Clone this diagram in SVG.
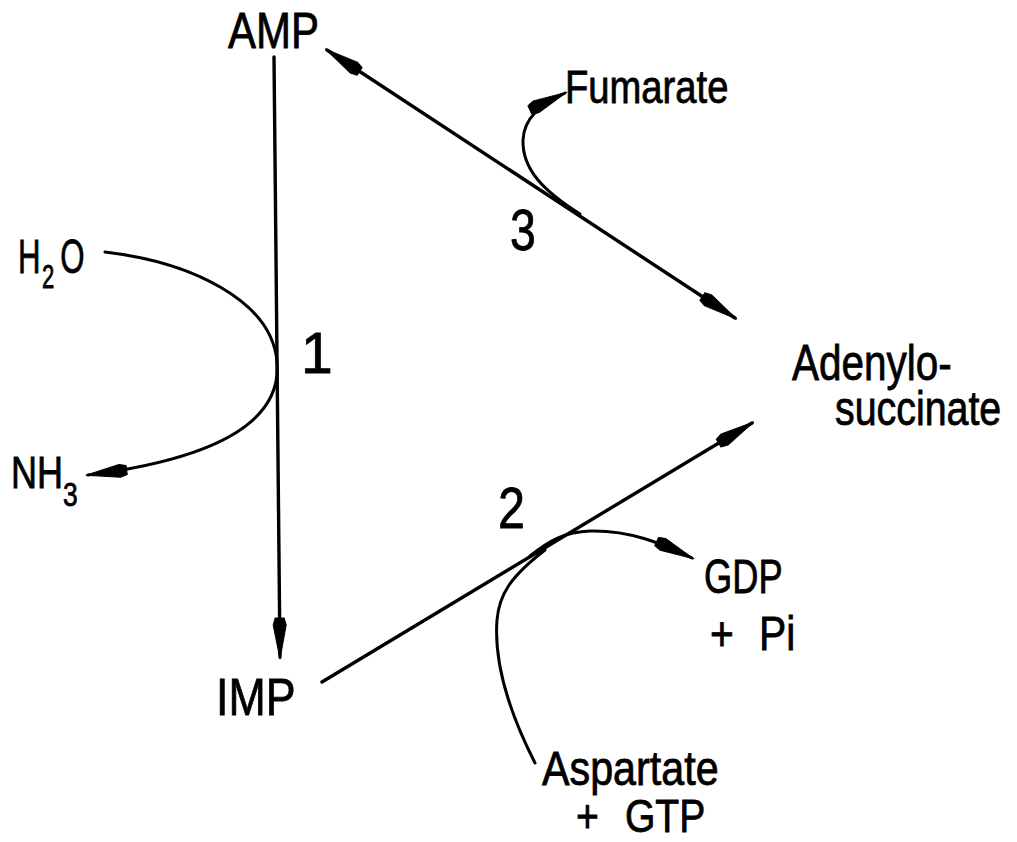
<svg xmlns="http://www.w3.org/2000/svg" width="1017" height="842" viewBox="0 0 1017 842">
<style>
text{font-family:"Liberation Sans","DejaVu Sans",sans-serif;fill:#000;stroke:#000;stroke-width:0.8}
.ln{fill:none;stroke:#000;stroke-width:3.4;stroke-linecap:round}
.cv{fill:none;stroke:#000;stroke-width:3;stroke-linecap:round}
</style>
<defs>
<marker id="ah" markerUnits="userSpaceOnUse" markerWidth="46" markerHeight="18" viewBox="-43 -9 46 18" refX="0" refY="0" orient="auto-start-reverse">
<path d="M2,0 L-32,-6.5 L-39,-4.5 L-39,4.5 L-32,6.5 Z" fill="#000" stroke="#000" stroke-width="1" stroke-linejoin="round"/>
</marker>
</defs>
<rect width="1017" height="842" fill="#fff"/>
<g id="connectors">
<line id="r1" class="ln" x1="274" y1="57" x2="280" y2="657" marker-end="url(#ah)"/>
<line id="r3" class="ln" x1="327" y1="50" x2="735" y2="318" marker-start="url(#ah)" marker-end="url(#ah)"/>
<line id="r2" class="ln" x1="322" y1="682" x2="752" y2="423" marker-end="url(#ah)"/>
<path id="h2o-nh3" class="cv" d="M105 252 C190 262 272 300 277 362 C282 420 220 458 88 475" marker-end="url(#ah)"/>
<path id="fumarate-c" class="cv" d="M580 214 C545 192 522 170 523 140 C524 118 540 105 565 93" marker-end="url(#ah)"/>
<path id="gdp-c" class="cv" d="M530 556 C550 540 565 532 590 531 C630 530 660 543 692 558" marker-end="url(#ah)"/>
<path id="asp-c" class="cv" d="M535 763 C508 710 494 660 497 620 C499 595 510 577 545 550"/>
</g>
<g id="AMP"><text transform="translate(228,48) scale(0.84,1)" font-size="50">AMP</text></g>
<g id="IMP"><text transform="translate(216,715) scale(0.86,1)" font-size="52">IMP</text></g>
<g id="Adenylosuccinate">
<text transform="translate(792,380) scale(0.81,1)" font-size="50">Adenylo-</text>
<text transform="translate(835,425) scale(0.82,1)" font-size="48">succinate</text>
</g>
<g id="H2O"><text transform="translate(18,273) scale(0.65,1)" font-size="48">H<tspan x="37" y="15" font-size="34">2</tspan><tspan x="65" y="0">O</tspan></text></g>
<g id="NH3"><text transform="translate(11,488) scale(0.8,1)" font-size="45">NH<tspan x="65" y="18" font-size="33">3</tspan></text></g>
<g id="Fumarate"><text transform="translate(565,103) scale(0.83,1)" font-size="46">Fumarate</text></g>
<g id="AspartateGTP">
<text transform="translate(542,785) scale(0.86,1)" font-size="48">Aspartate</text>
<text transform="translate(576,832) scale(0.85,1)" font-size="46">+ <tspan x="57.6">GTP</tspan></text>
</g>
<g id="GDPPi">
<text transform="translate(704,593) scale(0.74,1)" font-size="49">GDP</text>
<text transform="translate(710,650) scale(0.85,1)" font-size="48">+ <tspan x="57.6">Pi</tspan></text>
</g>
<g id="label1"><text x="301" y="373" font-size="57">1</text></g>
<g id="label2"><text transform="translate(498,528) scale(0.85,1)" font-size="57">2</text></g>
<g id="label3"><text transform="translate(510,250) scale(0.8,1)" font-size="58">3</text></g>
</svg>
